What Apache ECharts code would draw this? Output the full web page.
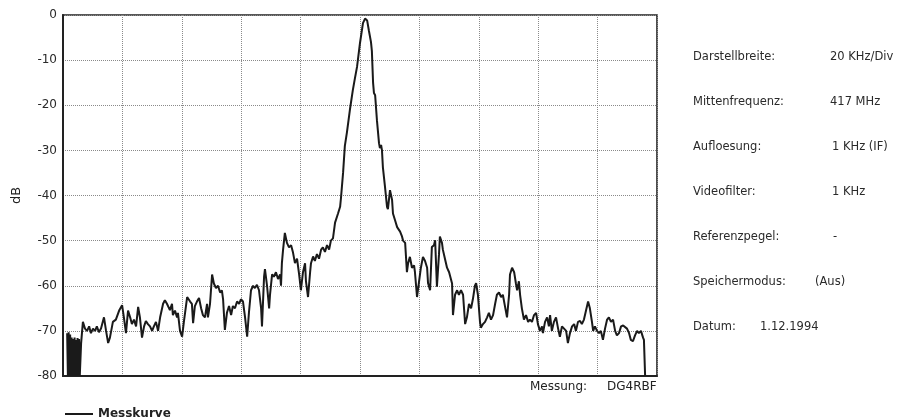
<!DOCTYPE html>
<html>
<head>
<meta charset="utf-8">
<script src="https://cdn.jsdelivr.net/npm/echarts@6/dist/echarts.min.js"></script>
<style>
html,body{margin:0;padding:0;background:#fff;}
#chart{width:924px;height:419px;}
</style>
</head>
<body>
<div id="chart"></div>
<script>
// Frequency offset from centre (417 MHz), kHz; span 200 kHz (20 kHz/Div)
const freqKHz = [
  -98.6,-98.35,-98.1,-97.85,-97.6,-97.35,-97.1,-96.85,-96.6,-96.35,-96.1,-95.85,-95.6,-95.35,-95.1,-94.85,-94.6,-94.35,
  -93.9,-93.3,-92.6,-91.9,-91.2,-90.6,-89.9,-89.2,-88.6,-87.9,
  -87.2,-86.2,-85.5,-84.8,-84.2,-83.2,-82.2,-81.1,-80.1,-79.5,
  -78.8,-78.1,-77.4,-76.8,-76.1,-75.4,-74.7,-74.1,-73.4,-72.7,
  -72.1,-71.4,-70.7,-70.0,-69.4,-68.7,-68.0,-67.3,-66.3,-65.7,
  -65.0,-64.0,-63.3,-63.0,-62.3,-61.6,-61.3,-60.6,-59.9,-59.3,
  -58.2,-57.2,-56.6,-56.2,-55.6,-54.9,-54.2,-53.5,-52.9,-52.2,
  -51.5,-51.2,-50.5,-49.8,-49.2,-48.5,-47.8,-47.1,-46.5,-46.1,
  -45.5,-44.8,-44.1,-43.4,-42.8,-42.1,-41.4,-40.7,-40.1,-39.4,
  -38.7,-38.0,-37.4,-36.7,-36.0,-35.4,-34.7,-34.0,-33.3,-33.0,
  -32.3,-32.0,-31.3,-30.6,-30.3,-29.6,-29.0,-28.3,-27.6,-26.9,
  -26.6,-26.3,-25.9,-25.3,-24.6,-23.9,-23.2,-22.6,-21.9,-21.2,
  -20.5,-19.9,-19.2,-18.5,-18.2,-17.5,-16.8,-16.5,-15.8,-15.2,
  -14.5,-13.8,-13.1,-12.5,-11.8,-11.1,-10.4,-9.8,-9.1,-8.4,
  -7.4,-6.7,-6.4,-5.7,-5.1,-4.4,-3.4,-2.4,-1.7,-1.0,
  0,1.0,1.7,2.4,3.0,3.7,4.0,4.4,4.7,5.1,
  5.7,6.4,6.7,7.1,7.4,7.7,8.4,9.1,9.4,10.1,
  10.8,11.1,11.8,12.5,13.5,14.1,14.5,15.2,15.8,16.2,
  16.8,17.5,18.2,18.5,19.2,19.9,20.5,21.2,21.9,22.6,
  22.9,23.6,24.2,24.9,25.3,25.9,26.6,26.9,27.6,27.9,
  28.6,29.3,30.0,30.3,31.0,31.3,32.0,32.7,33.3,34.0,
  34.7,35.4,36.0,36.7,37.4,38.0,38.7,39.1,39.7,40.4,
  40.7,41.4,42.1,42.8,43.4,44.1,44.8,45.5,46.1,46.8,
  47.5,48.1,48.8,49.5,50.2,50.5,51.2,51.9,52.5,52.9,
  53.5,53.9,54.5,55.2,55.9,56.6,57.2,57.9,58.6,59.3,
  59.9,60.6,61.3,61.6,62.3,63.0,63.6,64.0,64.6,65.3,
  66.0,66.7,67.3,68.0,68.7,69.4,70.0,70.7,71.4,72.1,
  72.7,73.4,74.1,74.7,75.4,76.1,76.8,77.4,78.1,78.5,
  79.1,79.8,80.5,81.1,81.8,82.5,83.2,83.8,84.5,85.2,
  85.9,86.5,87.2,87.9,88.6,89.2,89.9,90.6,91.2,91.9,
  92.6,93.3,93.9,94.6,95.3,95.6,96.0
];
// Measured level, dB
const levelDB = [
  -70.5,-80,-70.3,-80,-70.8,-80,-71.5,-80,-71.8,-80,-71.5,-80,-72,-80,-71.6,-80,-71.8,-80,
  -72.7,-68,-69.5,-70,-69,-70.5,-69.5,-70,-69,-70.3,
  -69.5,-67,-70,-72.7,-71.5,-68,-67.5,-65.5,-64.3,-67,
  -70.5,-65.5,-67,-68.5,-67.5,-69,-64.7,-67,-71.5,-69,
  -67.8,-68.5,-69,-70,-69,-68,-70,-67,-64,-63.2,
  -64,-65.4,-64,-66.5,-65.5,-67,-66,-70,-71.3,-68,
  -62.5,-63.5,-64,-68.3,-64.5,-63.5,-62.7,-65,-66.5,-67,
  -64,-67,-64,-57.5,-59.5,-60.5,-60,-61.5,-61,-63,
  -69.8,-66,-64.5,-66.5,-64.5,-65,-63.5,-64,-63,-63.5,
  -67,-71.3,-66,-61,-60,-60.5,-59.8,-61,-65,-69,
  -58,-56.3,-60,-65,-62,-57.5,-58,-57,-58.5,-57.5,
  -60,-55,-52,-48.3,-50.5,-51.5,-51,-52.5,-55,-54,
  -57.5,-61,-57,-55,-59,-62.5,-57,-55,-53.5,-54.5,
  -53,-54,-52,-51.5,-52.5,-51,-52,-50,-49.5,-46,
  -44,-42.5,-40.5,-35,-29,-26,-21,-16.6,-14,-11.5,
  -6.2,-1.8,-0.8,-1.2,-3.5,-6,-8,-15,-17.3,-17.8,
  -23.3,-28.4,-29.5,-28.8,-30,-33.7,-38,-42.5,-43,-38.8,
  -41,-44,-45.5,-47,-48,-49,-50,-50.5,-57,-55,
  -53.6,-56,-55.5,-57,-62.5,-59,-56,-53.6,-54.5,-56,
  -59.4,-61,-51.4,-51,-49.9,-60.2,-53,-49.1,-50.5,-52,
  -54,-56,-57,-57.2,-59.5,-66.5,-62,-61,-62,-61,
  -62,-68.5,-67,-64,-65,-63,-60,-59.4,-62,-68,
  -69.3,-68.5,-68,-67,-66,-67.5,-66.5,-64,-62,-61.5,
  -62.5,-62,-64.5,-67,-62,-57.5,-56,-57,-59.5,-61,
  -59,-62,-65,-67.5,-66.5,-68,-67.5,-68,-66.5,-66,
  -68.5,-70,-69,-70.5,-68,-67,-69,-66.5,-70,-68,
  -67,-69.5,-71.3,-69,-69.5,-70,-72.7,-70.5,-69,-68.5,
  -70,-68,-67.8,-68.5,-67.5,-65.5,-63.5,-65,-68,-70,
  -69,-70,-70.5,-70,-72,-69.5,-67.5,-67,-68,-67.5,
  -70,-71,-70.5,-69,-68.8,-69,-69.5,-70.5,-72,-72.3,
  -71,-70,-70.5,-70,-71.5,-72,-80
];
const seriesName = 'Messkurve';
const yAxisName = 'dB';
const infoLabels = ['Darstellbreite:', 'Mittenfrequenz:', 'Aufloesung:', 'Videofilter:', 'Referenzpegel:', 'Speichermodus:', 'Datum:'];
const infoValues = ['20 KHz/Div', '417 MHz', '1 KHz (IF)', '1 KHz', '-', '(Aus)', '1.12.1994'];
const footerLabel = 'Messung:';
const footerValue = 'DG4RBF';

const traceData = freqKHz.map((f, i) => [f, levelDB[i]]);

const FONT = 'DejaVu Sans';
const infoValueX = [830, 830, 832, 832, 833, 815, 760];
const graphics = [];
infoLabels.forEach((t, i) => {
  const y = 58 + i * 45;
  graphics.push({ type: 'text', left: 693, top: y - 7, style: { text: t, font: '11.5px "' + FONT + '"', fill: '#2a2a2a' } });
  graphics.push({ type: 'text', left: infoValueX[i], top: y - 7, style: { text: infoValues[i], font: '11.5px "' + FONT + '"', fill: '#2a2a2a' } });
});
graphics.push({ type: 'text', left: 530, top: 381, style: { text: footerLabel, font: '12px "' + FONT + '"', fill: '#222' } });
graphics.push({ type: 'text', left: 607, top: 381, style: { text: footerValue, font: '12px "' + FONT + '"', fill: '#222' } });

const chart = echarts.init(document.getElementById('chart'), null, { renderer: 'canvas' });
chart.setOption({
  backgroundColor: '#ffffff',
  animation: false,
  grid: { left: 63, right: 267, top: 15, bottom: 43, show: true, borderColor: '#222', borderWidth: 1.6, backgroundColor: 'transparent' },
  legend: {
    data: [seriesName], left: 60, top: 403, icon: 'rect', itemWidth: 28, itemHeight: 2,
    textStyle: { fontFamily: FONT, fontSize: 12, fontWeight: 'bold', color: '#222' }
  },
  xAxis: {
    type: 'value', min: -100, max: 100, interval: 20,
    axisLine: { show: true, onZero: false, lineStyle: { color: '#222', width: 2 } },
    axisTick: { show: false }, axisLabel: { show: false },
    splitLine: { show: true, lineStyle: { color: '#8a8a8a', type: 'dotted', width: 1 } }
  },
  yAxis: {
    type: 'value', min: -80, max: 0, interval: 10,
    name: yAxisName, nameLocation: 'middle', nameGap: 40,
    nameTextStyle: { fontFamily: FONT, fontSize: 13, color: '#222' },
    axisLine: { show: true, onZero: false, lineStyle: { color: '#222', width: 2 } },
    axisTick: { show: false },
    axisLabel: { margin: 6, fontFamily: FONT, fontSize: 12, color: '#2a2a2a' },
    splitLine: { show: true, lineStyle: { color: '#8a8a8a', type: 'dotted', width: 1 } }
  },
  series: [{
    name: seriesName, type: 'line', data: traceData, showSymbol: false, symbol: 'none',
    lineStyle: { color: '#1a1a1a', width: 2 }, itemStyle: { color: '#1a1a1a' }
  }],
  graphic: graphics
});
</script>
</body>
</html>
